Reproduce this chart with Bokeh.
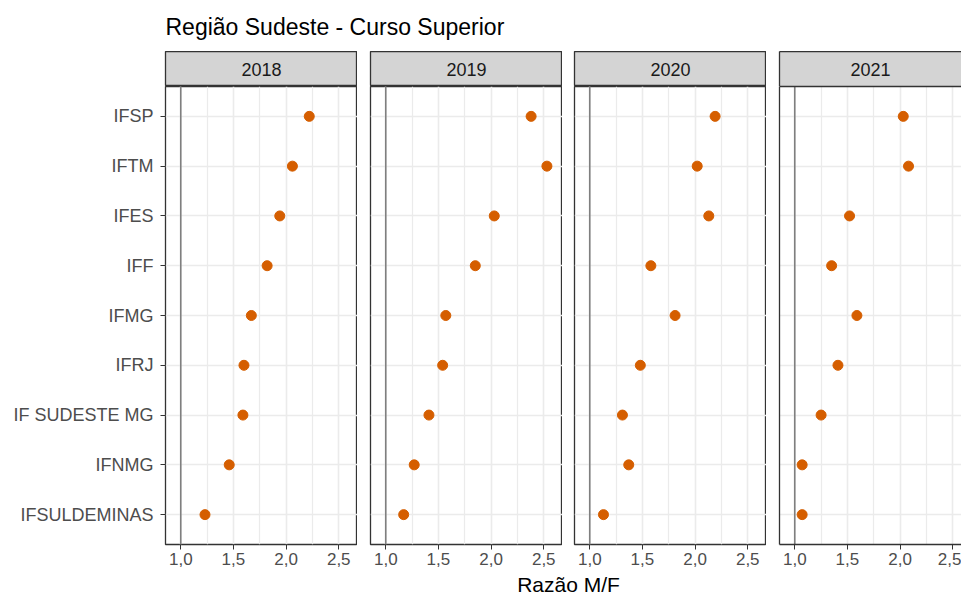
from bokeh.plotting import figure
from bokeh.layouts import row, column
from bokeh.models import (Range1d, FactorRange, FixedTicker, CustomJSTickFormatter,
                          Span, Label, ColumnDataSource, LinearAxis)
from bokeh.embed import file_html
from bokeh.resources import INLINE

# ---------------- data ----------------
institutos = ["IFSP", "IFTM", "IFES", "IFF", "IFMG", "IFRJ",
              "IF SUDESTE MG", "IFNMG", "IFSULDEMINAS"]
anos = ["2018", "2019", "2020", "2021"]
razao_2018 = [2.22, 2.06, 1.94, 1.82, 1.67, 1.60, 1.59, 1.46, 1.23]
razao_2019 = [2.38, 2.53, 2.03, 1.85, 1.57, 1.54, 1.41, 1.27, 1.17]
razao_2020 = [2.19, 2.02, 2.13, 1.58, 1.81, 1.48, 1.31, 1.37, 1.13]
razao_2021 = [2.03, 2.08, 1.52, 1.35, 1.59, 1.41, 1.25, 1.07, 1.07]
x_ticks = [1.0, 1.5, 2.0, 2.5]
x_minor = [1.25, 1.75, 2.25]
referencia = 1.0
titulo = "Região Sudeste - Curso Superior"
eixo_x = "Razão M/F"

series = [razao_2018, razao_2019, razao_2020, razao_2021]

# ---------------- style / layout ----------------
FONT = "Liberation Sans"
PT_COLOR = "#D55E00"
GRID = "#EBEBEB"
BORDER = "#333333"
BW = 1.3
STRIP_FILL = "#D4D4D4"
TITLE_H, STRIP_H, FRAME_H, BOTTOM_H, XLAB_H = 51, 35, 458, 28, 24
TOTAL_W = 961
X0, X1 = 0.855, 2.678
FRAME_W = 192
borders_left = [165, 13, 12, 13]
frames_w = [192, 192, 192, 182]

fatores = list(reversed(institutos))


def border_axis(fig, side):
    ax = LinearAxis(ticker=FixedTicker(ticks=[]),
                    major_tick_in=0, major_tick_out=0, minor_tick_in=0, minor_tick_out=0,
                    major_label_standoff=0, axis_line_color=BORDER, axis_line_width=BW)
    fig.add_layout(ax, side)


def strip(ano, bl, fw, last):
    s = figure(width=bl + fw, height=STRIP_H, x_range=Range1d(0, 1), y_range=Range1d(0, 1),
               output_backend="svg", toolbar_location=None,
               min_border_left=bl, min_border_right=0, min_border_top=0, min_border_bottom=0,
               x_axis_location=None, y_axis_location=None)
    s.grid.visible = False
    s.background_fill_color = STRIP_FILL
    s.border_fill_color = "white"
    if last:
        s.outline_line_color = None
        border_axis(s, "left")
        border_axis(s, "above")
        border_axis(s, "below")
    else:
        s.outline_line_color = BORDER
        s.outline_line_width = BW
    s.add_layout(Label(x=0.5, y=0.5, text=ano, text_align="center", text_baseline="middle",
                       text_font=FONT, text_font_size="18px", text_color="#1A1A1A"))
    return s


def painel(valores, bl, fw, first, last):
    x_end = X0 + (X1 - X0) * fw / FRAME_W
    p = figure(width=bl + fw, height=FRAME_H + BOTTOM_H,
               x_range=Range1d(X0, x_end),
               y_range=FactorRange(factors=fatores, range_padding=0.1, range_padding_units="absolute"),
               output_backend="svg", toolbar_location=None,
               min_border_left=bl, min_border_right=0, min_border_top=0, min_border_bottom=BOTTOM_H)
    p.background_fill_color = "white"
    p.border_fill_color = "white"

    # x axis
    p.xaxis.ticker = FixedTicker(ticks=x_ticks, minor_ticks=x_minor)
    p.xaxis.formatter = CustomJSTickFormatter(code="return tick.toFixed(1).replace('.', ',')")
    p.xaxis.axis_line_color = None
    p.xaxis.major_tick_in = 0
    p.xaxis.major_tick_out = 5
    p.xaxis.major_tick_line_color = BORDER
    p.xaxis.minor_tick_in = 0
    p.xaxis.minor_tick_out = 0
    p.xaxis.major_label_standoff = 3
    p.xaxis.major_label_text_font = FONT
    p.xaxis.major_label_text_font_size = "17px"
    p.xaxis.major_label_text_color = "#4D4D4D"

    # y axis
    if first:
        p.yaxis.axis_line_color = None
        p.yaxis.major_tick_in = 0
        p.yaxis.major_tick_out = 5
        p.yaxis.major_tick_line_color = BORDER
        p.yaxis.major_label_standoff = 7
        p.yaxis.major_label_text_font = FONT
        p.yaxis.major_label_text_font_size = "18px"
        p.yaxis.major_label_text_color = "#4D4D4D"
    else:
        p.yaxis.visible = False

    if last:
        p.outline_line_color = None
        p.xaxis.axis_line_color = BORDER
        p.xaxis.axis_line_width = BW
        border_axis(p, "above")
        border_axis(p, "left")
    else:
        p.outline_line_color = BORDER
        p.outline_line_width = BW

    # grids
    p.xgrid.grid_line_color = GRID
    p.xgrid.grid_line_width = 1.6
    p.xgrid.minor_grid_line_color = GRID
    p.xgrid.minor_grid_line_width = 1.2
    p.ygrid.grid_line_color = GRID
    p.ygrid.grid_line_width = 1.6

    p.add_layout(Span(location=referencia, dimension="height", line_color="#7F7F7F",
                      line_width=1.6, level="underlay"))

    src = ColumnDataSource(dict(instituto=institutos, razao=valores))
    p.scatter(x="razao", y="instituto", source=src, size=10, color=PT_COLOR)
    return p


cols = []
for i, (ano, vals) in enumerate(zip(anos, series)):
    last = i == len(anos) - 1
    s = strip(ano, borders_left[i], frames_w[i], last)
    p = painel(vals, borders_left[i], frames_w[i], i == 0, last)
    cols.append(column(s, p, spacing=0))

# title
t = figure(width=TOTAL_W, height=TITLE_H, x_range=Range1d(0, TOTAL_W), y_range=Range1d(0, TITLE_H),
           output_backend="svg", toolbar_location=None, min_border=0,
           x_axis_location=None, y_axis_location=None)
t.grid.visible = False
t.outline_line_color = None
t.add_layout(Label(x=borders_left[0], y=25, text=titulo, text_font=FONT, text_font_size="23px",
                   text_color="black", text_baseline="alphabetic", text_align="left"))

# x axis title
xl = figure(width=TOTAL_W, height=XLAB_H, x_range=Range1d(0, TOTAL_W), y_range=Range1d(0, XLAB_H),
            output_backend="svg", toolbar_location=None, min_border=0,
            x_axis_location=None, y_axis_location=None)
xl.grid.visible = False
xl.outline_line_color = None
xl.add_layout(Label(x=568, y=12, text=eixo_x, text_font=FONT, text_font_size="21px",
                    text_color="black", text_baseline="alphabetic", text_align="center"))

layout = column(t, row(*cols, spacing=0), xl, spacing=0)

open("out.html", "w").write(file_html(layout, INLINE))
